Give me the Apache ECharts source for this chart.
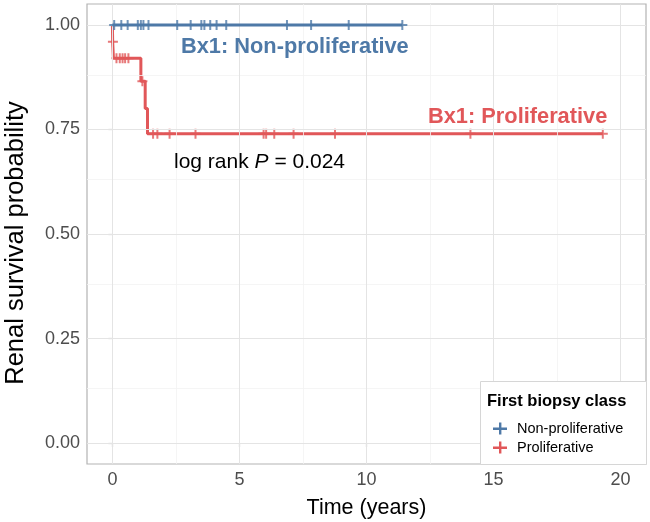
<!DOCTYPE html>
<html>
<head>
<meta charset="utf-8">
<script src="https://cdn.jsdelivr.net/npm/echarts@6/dist/echarts.min.js"></script>
<style>html,body{margin:0;padding:0;background:#fff}#c{width:650px;height:522px}</style>
</head>
<body>
<div id="c"></div>
<script>
// ---- data ----
const groupNames = ['Non-proliferative', 'Proliferative'];
// step curves (time in years, survival probability)
const nonProlTimes = [0, 11.41];
const nonProlSurv = [1, 1];
const prolTimes = [0, 0.01, 0.04, 1.12, 1.29, 1.38, 19.3];
const prolSurv = [1, 0.96, 0.92, 0.865, 0.80, 0.74, 0.74];
// censored observations
const nonProlCensorTimes = [0.07, 0.35, 0.6, 1.0, 1.12, 1.22, 1.42, 2.55, 3.08, 3.5, 3.62, 3.85, 4.1, 4.48, 6.87, 7.82, 9.3, 11.41];
const nonProlCensorSurv = [1, 1, 1, 1, 1, 1, 1, 1, 1, 1, 1, 1, 1, 1, 1, 1, 1, 1];
const prolCensorTimes = [0.02, 0.16, 0.29, 0.4, 0.5, 0.63, 1.18, 1.6, 1.77, 2.25, 3.27, 5.95, 6.05, 6.37, 7.13, 8.76, 14.09, 19.3];
const prolCensorSurv = [0.96, 0.92, 0.92, 0.92, 0.92, 0.92, 0.865, 0.74, 0.74, 0.74, 0.74, 0.74, 0.74, 0.74, 0.74, 0.74, 0.74, 0.74];
// axes
const xTicks = [0, 5, 10, 15, 20];
const xMinorGrid = [2.5, 7.5, 12.5, 17.5];
const yTicks = [0, 0.25, 0.5, 0.75, 1];
const yMinorGrid = [0.125, 0.375, 0.625, 0.875];
const yTickLabels = ['0.00', '0.25', '0.50', '0.75', '1.00'];
const xTitle = 'Time (years)';
const yTitle = 'Renal survival probability';
const legendTitle = 'First biopsy class';
const labelNonProl = 'Bx1: Non-proliferative';
const labelProl = 'Bx1: Proliferative';
const pValueText = '0.024';

// ---- styling ----
const BLUE = '#4E79A7', RED = '#E15759';
const FONT = '"Liberation Sans", Arial, Helvetica, sans-serif';
const censorSymbol = 'path://M4,0h2v4h4v2h-4v4h-2v-4h-4v-2h4z';
const legendIcon = 'path://M6,0h2.4v5h5.6v2.4h-5.6v4.6h-2.4v-4.6h-6v-2.4h6z';

const zip = (a, b) => a.map((v, i) => [v, b[i]]);

const chart = echarts.init(document.getElementById('c'), null, {renderer: 'canvas'});
const minorStyle = {color: '#F2F2F2', width: 0.8, type: 'solid'};
const majorStyle = {color: '#E4E4E4', width: 1, type: 'solid'};
const gridMarks = [].concat(
  xMinorGrid.map(v => ({xAxis: v, lineStyle: minorStyle})),
  yMinorGrid.map(v => ({yAxis: v, lineStyle: minorStyle})),
  xTicks.map(v => ({xAxis: v, lineStyle: majorStyle})),
  yTicks.map(v => ({yAxis: v, lineStyle: majorStyle}))
);

chart.setOption({
  animation: false,
  backgroundColor: '#fff',
  textStyle: {fontFamily: FONT},
  grid: {left: 87, right: 4, top: 4, bottom: 58, containLabel: false, outerBoundsMode: 'none',
    show: true, borderColor: '#B3B3B3', borderWidth: 1.2, backgroundColor: '#fff'},
  xAxis: {
    type: 'value', min: -1, max: 21,
    splitLine: {show: false},
    axisLine: {show: false},
    axisTick: {show: true, customValues: xTicks, length: 4, lineStyle: {color: '#B3B3B3', width: 1.2}},
    axisLabel: {customValues: xTicks, fontSize: 18, color: '#4D4D4D', margin: 7, fontFamily: FONT},
    name: xTitle, nameLocation: 'middle', nameGap: 33,
    nameTextStyle: {fontSize: 21.5, color: '#000', fontFamily: FONT}
  },
  yAxis: {
    type: 'value', min: -0.05, max: 1.05,
    splitLine: {show: false},
    axisLine: {show: false},
    axisTick: {show: true, customValues: yTicks, length: 4, lineStyle: {color: '#B3B3B3', width: 1.2}},
    axisLabel: {customValues: yTicks, fontSize: 18, color: '#4D4D4D', margin: 7, fontFamily: FONT,
      formatter: v => yTickLabels[yTicks.findIndex(t => Math.abs(t - v) < 1e-9)] ?? ''}
  },
  legend: {
    data: groupNames.map(n => ({name: n, icon: legendIcon})),
    orient: 'vertical', left: 493, top: 421, padding: 0, itemWidth: 14, itemHeight: 12, itemGap: 4,
    textStyle: {fontSize: 14.5, color: '#000', fontFamily: FONT, padding: [0, 0, 0, 5]},
    selectedMode: false, z: 50
  },
  graphic: [
    {type: 'text', x: 16, y: 243, rotation: Math.PI / 2, z: 100,
      style: {text: yTitle, font: '25.5px ' + FONT, fill: '#000', align: 'center', verticalAlign: 'middle'}},
    {type: 'rect', left: 480, top: 381, z: 15, shape: {width: 166, height: 83},
      style: {fill: '#fff', stroke: '#D6D6D6', lineWidth: 1}},
    {type: 'text', left: 487, top: 393, z: 101,
      style: {text: legendTitle, font: 'bold 16.5px ' + FONT, fill: '#000'}},
    {type: 'text', left: 181, top: 36, z: 100,
      style: {text: labelNonProl, font: 'bold 21.8px ' + FONT, fill: BLUE}},
    {type: 'text', left: 428, top: 106, z: 100,
      style: {text: labelProl, font: 'bold 21.8px ' + FONT, fill: RED}},
    {type: 'text', left: 174, top: 152, z: 100,
      style: {text: '{n|log rank }{i|P}{n| = ' + pValueText + '}',
        rich: {n: {fontSize: 21, fontFamily: FONT, fill: '#000', color: '#000'},
               i: {fontSize: 21, fontFamily: FONT, fontStyle: 'italic', fill: '#000', color: '#000'}}}}
  ],
  series: [
    {type: 'line', name: '_grid', data: [], silent: true, z: 1,
      markLine: {silent: true, symbol: ['none', 'none'], label: {show: false}, data: gridMarks, animation: false}},
    {type: 'line', name: groupNames[1], data: zip(prolTimes, prolSurv), step: 'end', showSymbol: false,
      lineStyle: {color: RED, width: 3}, itemStyle: {color: RED}, z: 3},
    {type: 'scatter', name: 'censorProl', data: zip(prolCensorTimes, prolCensorSurv), symbol: censorSymbol,
      symbolSize: [10, 10], itemStyle: {color: RED}, z: 4},
    {type: 'line', name: groupNames[0], data: zip(nonProlTimes, nonProlSurv), step: 'end', showSymbol: false,
      lineStyle: {color: BLUE, width: 3}, itemStyle: {color: BLUE}, z: 5},
    {type: 'scatter', name: 'censorNonProl', data: zip(nonProlCensorTimes, nonProlCensorSurv), symbol: censorSymbol,
      symbolSize: [10, 10], itemStyle: {color: BLUE}, z: 6}
  ]
});
</script>
</body>
</html>
